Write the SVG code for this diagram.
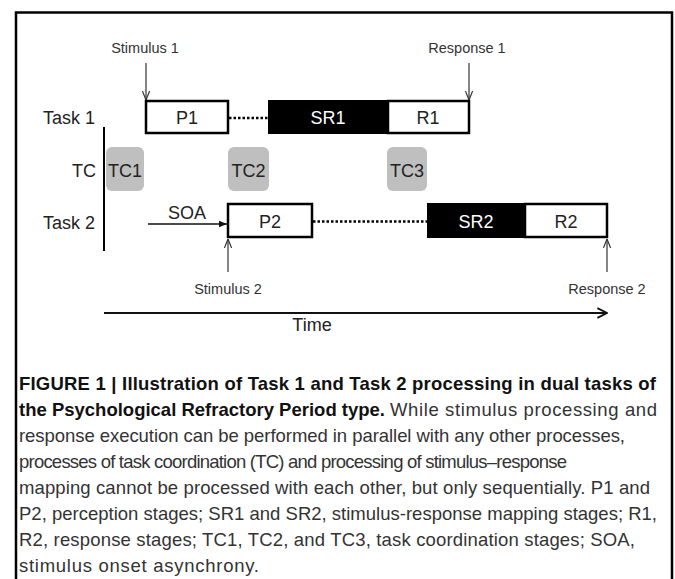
<svg xmlns="http://www.w3.org/2000/svg" width="675" height="579" viewBox="0 0 675 579">
<style>
.lbl{font-family:"Liberation Sans",Arial,sans-serif;font-size:18px;fill:#222}
.sm{font-family:"Liberation Sans",Arial,sans-serif;font-size:14.5px;fill:#333;text-anchor:middle}
.mid{text-anchor:middle}
.wt{fill:#fff}
.box{fill:#fff;stroke:#000;stroke-width:2.5}
.blk{fill:#000}
.tc{fill:#bfbfbf}
.thin{stroke:#333;stroke-width:1.2;fill:none}
.dot{stroke:#000;stroke-width:2.5;stroke-dasharray:2.5 2;fill:none}
.cap{font-family:"Liberation Sans",Arial,sans-serif;font-size:18.5px;fill:#333}
.capb{font-weight:bold;fill:#111}
</style>
<defs>
<marker id="vhead" viewBox="0 0 10 10" refX="10" refY="5" markerWidth="9" markerHeight="9" markerUnits="userSpaceOnUse" orient="auto"><path d="M0,1 L10,5 L0,9" fill="none" stroke="#333" stroke-width="1.3"/></marker>
<marker id="fhead" viewBox="0 0 10 10" refX="10" refY="5" markerWidth="8" markerHeight="8" markerUnits="userSpaceOnUse" orient="auto"><path d="M0,1 L10,5 L0,9 Z" fill="#111"/></marker>
<marker id="thead" viewBox="0 0 10 10" refX="9" refY="5" markerWidth="12" markerHeight="12" markerUnits="userSpaceOnUse" orient="auto"><path d="M1,1 L9,5 L1,9" fill="none" stroke="#111" stroke-width="1.6"/></marker>
</defs>
<rect width="675" height="579" fill="#fff"/>
<path d="M16,579 V12.5 H672 V579" fill="none" stroke="#000" stroke-width="2.5"/>

<g id="labels">
<text class="lbl" x="43" y="124">Task 1</text>
<text class="lbl" x="96" y="177" text-anchor="end">TC</text>
<text class="lbl" x="43" y="229">Task 2</text>
<text class="lbl mid" x="312" y="331">Time</text>
<text class="lbl" x="168" y="219">SOA</text>
<text class="sm" x="145" y="53">Stimulus 1</text>
<text class="sm" x="467" y="53">Response 1</text>
<text class="sm" x="228" y="294">Stimulus 2</text>
<text class="sm" x="607" y="294">Response 2</text>
</g>

<g id="connectors">
<line x1="104" y1="127" x2="104" y2="251" stroke="#000" stroke-width="2"/>
<line class="thin" x1="146" y1="63" x2="146" y2="100" marker-end="url(#vhead)"/>
<line class="thin" x1="469" y1="63" x2="469" y2="100" marker-end="url(#vhead)"/>
<line class="thin" x1="228" y1="272" x2="228" y2="239" marker-end="url(#vhead)"/>
<line class="thin" x1="607" y1="272" x2="607" y2="239" marker-end="url(#vhead)"/>
<line x1="148" y1="224" x2="227" y2="224" stroke="#111" stroke-width="1.6" marker-end="url(#fhead)"/>
<line x1="104" y1="313" x2="607" y2="313" stroke="#111" stroke-width="2" marker-end="url(#thead)"/>
<line class="dot" x1="229" y1="118" x2="268" y2="118"/>
<line class="dot" x1="313" y1="221.5" x2="427" y2="221.5"/>
</g>

<g id="P1"><rect class="box" x="146" y="101" width="82" height="32"/><text class="lbl mid" x="187" y="124">P1</text></g>
<g id="SR1"><rect class="blk" x="268" y="100" width="120" height="34"/><text class="lbl mid wt" x="328" y="124">SR1</text></g>
<g id="R1"><rect class="box" x="388" y="101" width="81" height="32"/><text class="lbl mid" x="428" y="124">R1</text></g>
<g id="TC1"><rect class="tc" x="106" y="147" width="38" height="44" rx="6"/><text class="lbl mid" x="125" y="177">TC1</text></g>
<g id="TC2"><rect class="tc" x="228" y="147" width="41" height="44" rx="6"/><text class="lbl mid" x="248.5" y="177">TC2</text></g>
<g id="TC3"><rect class="tc" x="387" y="147" width="40" height="44" rx="6"/><text class="lbl mid" x="407" y="177">TC3</text></g>
<g id="P2"><rect class="box" x="228" y="204" width="84" height="33"/><text class="lbl mid" x="270" y="228">P2</text></g>
<g id="SR2"><rect class="blk" x="427" y="203" width="98" height="35"/><text class="lbl mid wt" x="476" y="228">SR2</text></g>
<g id="R2"><rect class="box" x="525" y="204" width="82" height="33"/><text class="lbl mid" x="566" y="228">R2</text></g>

<g id="caption" class="cap">
<text x="19" y="390" class="capb" textLength="637" lengthAdjust="spacing">FIGURE 1 | Illustration of Task 1 and Task 2 processing in dual tasks of</text>
<text x="19" y="416" class="capb">the Psychological Refractory Period type.</text>
<text x="390" y="416" textLength="267" lengthAdjust="spacing">While stimulus processing and</text>
<text x="19" y="442" textLength="606" lengthAdjust="spacing">response execution can be performed in parallel with any other processes,</text>
<text x="19" y="468" textLength="548" lengthAdjust="spacing">processes of task coordination (TC) and processing of stimulus–response</text>
<text x="19" y="494" textLength="631" lengthAdjust="spacing">mapping cannot be processed with each other, but only sequentially. P1 and</text>
<text x="19" y="520" textLength="638" lengthAdjust="spacing">P2, perception stages; SR1 and SR2, stimulus-response mapping stages; R1,</text>
<text x="19" y="546" textLength="616" lengthAdjust="spacing">R2, response stages; TC1, TC2, and TC3, task coordination stages; SOA,</text>
<text x="19" y="572" textLength="240" lengthAdjust="spacing">stimulus onset asynchrony.</text>
</g>
</svg>
